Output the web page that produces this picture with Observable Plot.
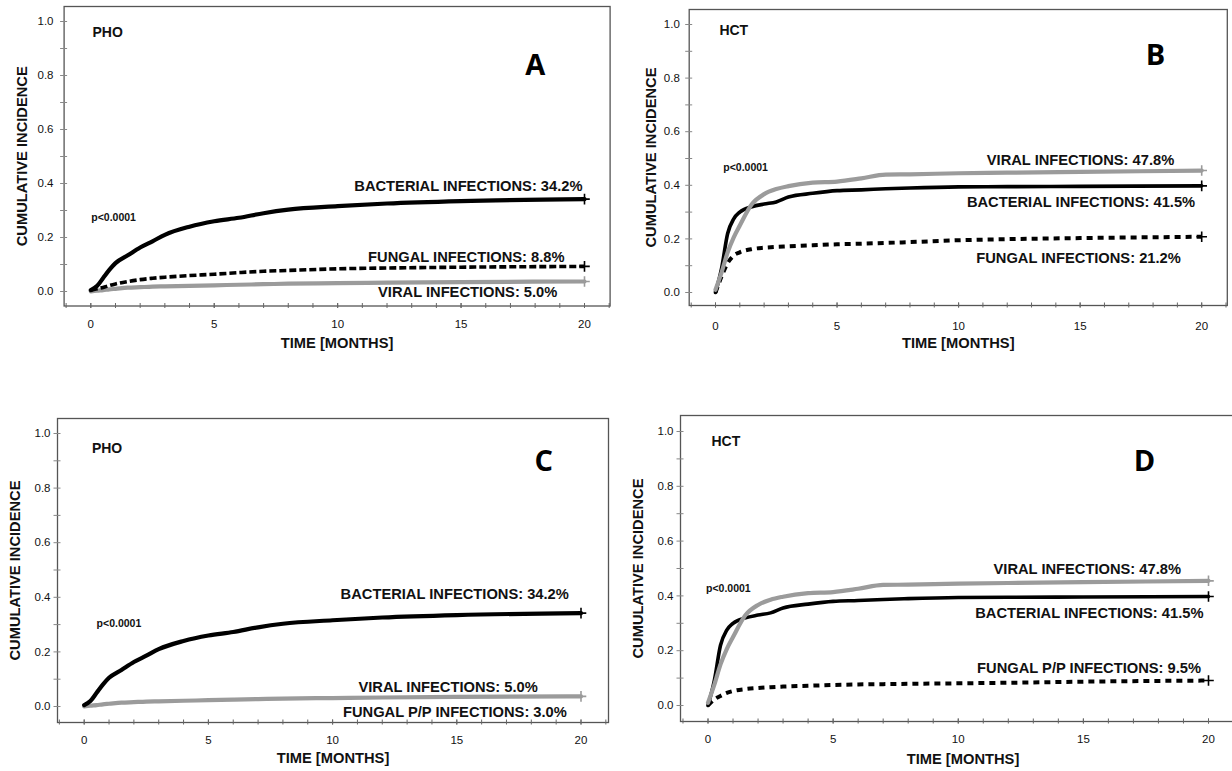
<!DOCTYPE html>
<html><head><meta charset="utf-8">
<script src="https://cdn.jsdelivr.net/npm/d3@7"></script>
<script src="https://cdn.jsdelivr.net/npm/@observablehq/plot@0.6"></script>
<style>
html,body{margin:0;padding:0;background:#fff;}
#wrap{position:relative;width:1232px;height:771px;overflow:hidden;background:#fff;}
#wrap > svg{position:absolute;}
</style></head><body><div id="wrap"></div>
<script>
// ---------- data ----------
const months = [0, 0.25, 0.5, 0.75, 1, 1.5, 2, 2.5, 3, 4, 5, 6, 7, 8, 10, 12, 15, 20];

// PHO (panels A and C)
const phoBacterial = [0.005, 0.02, 0.05, 0.08, 0.105, 0.134, 0.163, 0.186, 0.21, 0.24, 0.26, 0.273, 0.29, 0.303, 0.316, 0.326, 0.335, 0.342];
const phoFungal    = [0.005, 0.01, 0.015, 0.022, 0.028, 0.037, 0.044, 0.049, 0.053, 0.059, 0.064, 0.07, 0.075, 0.078, 0.084, 0.087, 0.09, 0.093];
const phoViral     = [0.0, 0.003, 0.005, 0.008, 0.01, 0.014, 0.016, 0.018, 0.019, 0.021, 0.023, 0.025, 0.027, 0.029, 0.031, 0.033, 0.035, 0.037];

// HCT (panels B and D)
const hctBacterial = [0.0, 0.09, 0.22, 0.275, 0.30, 0.32, 0.33, 0.338, 0.356, 0.37, 0.38, 0.383, 0.387, 0.39, 0.394, 0.395, 0.396, 0.398];
const hctViral     = [0.01, 0.075, 0.15, 0.206, 0.25, 0.33, 0.367, 0.386, 0.397, 0.41, 0.414, 0.426, 0.44, 0.441, 0.445, 0.447, 0.45, 0.455];
const hctFungal    = [0.0, 0.06, 0.11, 0.138, 0.15, 0.162, 0.167, 0.17, 0.172, 0.176, 0.18, 0.182, 0.185, 0.188, 0.195, 0.199, 0.203, 0.208];
const hctFungalPP  = [0.0, 0.022, 0.035, 0.046, 0.053, 0.06, 0.064, 0.067, 0.069, 0.072, 0.075, 0.077, 0.078, 0.079, 0.081, 0.083, 0.087, 0.091];

const yMajor = [0, 0.2, 0.4, 0.6, 0.8, 1.0];
const yMinor = [0.1, 0.3, 0.5, 0.7, 0.9];
const xMajor = [0, 5, 10, 15, 20];
const xMinor = d3.range(-1, 22);

const yTitle = "CUMULATIVE INCIDENCE";
const xTitle = "TIME [MONTHS]";
const pText = "p<0.0001";

// ---------- styles ----------
const FONT = "'Liberation Sans', Arial, Helvetica, sans-serif";
const BLACK = "#000";
const GRAY = "#9b9b9b";
const LABEL_SIZE = 14.7;

function series(values, style) {
  return {rows: months.map((t, i) => ({t, v: values[i]})), ...style};
}

const panels = [
  { // A
    box: {left: 0, top: 0, width: 616, height: 385},
    frame: [63.6, 6, 609.6, 305.5], x0px: 90.3, x20px: 584, y0px: 291, y1px: 21,
    yGap: 10.6, xLabGap: 15.5, yTitleOff: 42, xTitleOff: 41.5,
    lines: [
      series(phoViral, {stroke: GRAY, strokeWidth: 4.2}),
      series(phoFungal, {stroke: BLACK, strokeWidth: 3.6, dash: "7,3"}),
      series(phoBacterial, {stroke: BLACK, strokeWidth: 4.2})
    ],
    group: {text: "PHO", x: 0.07, y: 0.96},
    letter: {text: "A", x: 18.0, y: 0.835},
    p: {x: 0.02, y: 0.275},
    labels: [
      {text: "BACTERIAL INFECTIONS: 34.2%", x: 19.92, y: 0.389},
      {text: "FUNGAL INFECTIONS: 8.8%", x: 19.19, y: 0.127},
      {text: "VIRAL INFECTIONS: 5.0%", x: 18.9, y: -0.004}
    ]
  },
  { // B
    box: {left: 616, top: 0, width: 616, height: 385},
    frame: [688.7, 9, 1226.8, 305], x0px: 715, x20px: 1201.2, y0px: 292, y1px: 24,
    yGap: 9.4, xLabGap: 17.5, yTitleOff: 38, xTitleOff: 42,
    lines: [
      series(hctFungal, {stroke: BLACK, strokeWidth: 4, dash: "6,5"}),
      series(hctBacterial, {stroke: BLACK, strokeWidth: 3.6}),
      series(hctViral, {stroke: GRAY, strokeWidth: 4.2})
    ],
    group: {text: "HCT", x: 0.16, y: 0.978},
    letter: {text: "B", x: 18.1, y: 0.884},
    p: {x: 0.32, y: 0.466},
    labels: [
      {text: "VIRAL INFECTIONS: 47.8%", x: 18.87, y: 0.492},
      {text: "BACTERIAL INFECTIONS: 41.5%", x: 19.73, y: 0.335},
      {text: "FUNGAL INFECTIONS: 21.2%", x: 19.14, y: 0.127}
    ]
  },
  { // C
    box: {left: 0, top: 385, width: 616, height: 386},
    frame: [57, 418, 608, 722], x0px: 83.7, x20px: 580.5, y0px: 706, y1px: 433,
    yGap: 7, xLabGap: 14.7, yTitleOff: 42, xTitleOff: 40,
    lines: [
      series(phoViral, {stroke: GRAY, strokeWidth: 4.2}),
      series(phoBacterial, {stroke: BLACK, strokeWidth: 4.2})
    ],
    group: {text: "PHO", x: 0.31, y: 0.945},
    letter: {text: "C", x: 18.5, y: 0.895},
    p: {x: 0.5, y: 0.304},
    labels: [
      {text: "BACTERIAL INFECTIONS: 34.2%", x: 19.51, y: 0.41},
      {text: "VIRAL INFECTIONS: 5.0%", x: 18.26, y: 0.07},
      {text: "FUNGAL P/P INFECTIONS: 3.0%", x: 19.43, y: -0.022}
    ]
  },
  { // D
    box: {left: 616, top: 385, width: 640, height: 386},
    frame: [680, 415, 1245, 721], x0px: 707.5, x20px: 1208, y0px: 705, y1px: 431,
    yGap: 7, xLabGap: 15, yTitleOff: 42.4, xTitleOff: 42,
    lines: [
      series(hctFungalPP, {stroke: BLACK, strokeWidth: 4, dash: "6,5"}),
      series(hctBacterial, {stroke: BLACK, strokeWidth: 3.6}),
      series(hctViral, {stroke: GRAY, strokeWidth: 4.2})
    ],
    group: {text: "HCT", x: 0.14, y: 0.964},
    letter: {text: "D", x: 17.44, y: 0.89},
    p: {x: -0.08, y: 0.427},
    labels: [
      {text: "VIRAL INFECTIONS: 47.8%", x: 18.9, y: 0.496},
      {text: "BACTERIAL INFECTIONS: 41.5%", x: 19.8, y: 0.336},
      {text: "FUNGAL P/P INFECTIONS: 9.5%", x: 19.7, y: 0.135}
    ]
  }
];

function drawPanel(cfg) {
  const {box, frame: [fl, ft, fr, fb], x0px, x20px, y0px, y1px} = cfg;
  const ux = (x20px - x0px) / 20, uy = (y0px - y1px);
  const xDomain = [(fl - x0px) / ux, (fr - x0px) / ux];
  const yDomain = [(y0px - fb) / uy, (y0px - ft) / uy];
  const marks = [];

  // data lines
  for (const s of cfg.lines) {
    marks.push(Plot.line(s.rows, {x: "t", y: "v", curve: "monotone-x", stroke: s.stroke, strokeWidth: s.strokeWidth,
      strokeDasharray: s.dash, strokeLinejoin: "round", strokeLinecap: s.dash ? "butt" : "round"}));
    marks.push(Plot.dot(s.rows.slice(-1), {x: "t", y: "v", symbol: "plus", r: 3.5, stroke: s.stroke, strokeWidth: 1.6}));
  }

  // frame + axes
  marks.push(Plot.frame({stroke: "#555", strokeWidth: 1.3}));
  marks.push(Plot.axisY(yMajor, {tickFormat: d3.format(".1f"), tickSize: 7, dx: 3.5, tickPadding: cfg.yGap - 3.5,
    stroke: "#888", fill: "#111", fontSize: 11.5, fontFamily: FONT, label: null}));
  marks.push(Plot.axisY(yMinor, {tickFormat: () => "", tickSize: 7, dx: 3.5, stroke: "#888", label: null}));
  marks.push(Plot.axisX(xMinor, {tickFormat: () => "", tickSize: 5, dy: -2.5, stroke: "#666", label: null}));
  marks.push(Plot.axisX(xMajor, {tickFormat: d3.format("d"), tickSize: 5, dy: -2.5, tickPadding: cfg.xLabGap - 4.1,
    stroke: "#666", fill: "#111", fontSize: 11.5, fontFamily: FONT, label: null}));

  // axis titles
  marks.push(Plot.text([yTitle], {frameAnchor: "left", textAnchor: "middle", rotate: -90, dx: -cfg.yTitleOff, text: d => d,
    fontSize: LABEL_SIZE, fontWeight: "bold", fontFamily: FONT, fill: "#111"}));
  marks.push(Plot.text([xTitle], {frameAnchor: "bottom", textAnchor: "middle", dy: cfg.xTitleOff, text: d => d,
    fontSize: LABEL_SIZE, fontWeight: "bold", fontFamily: FONT, fill: "#111"}));

  // annotations
  marks.push(Plot.text([cfg.group], {x: "x", y: "y", text: "text", textAnchor: "start",
    fontSize: 14, fontWeight: "bold", fontFamily: FONT, fill: "#111"}));
  marks.push(Plot.text([cfg.p], {x: "x", y: "y", text: () => pText, textAnchor: "start",
    fontSize: 10.5, fontWeight: "bold", fontFamily: FONT, fill: "#111"}));
  marks.push(Plot.text([cfg.letter], {x: "x", y: "y", text: "text", textAnchor: "middle",
    fontSize: 29, fontWeight: "bold", fontFamily: "'Open Sans', 'Noto Sans', sans-serif", fill: "#000"}));
  marks.push(Plot.text(cfg.labels, {x: "x", y: "y", text: "text", textAnchor: "end",
    fontSize: LABEL_SIZE, fontWeight: "bold", fontFamily: FONT, fill: "#111"}));

  const svg = Plot.plot({
    width: box.width, height: box.height,
    marginLeft: fl - box.left, marginRight: box.left + box.width - fr,
    marginTop: ft - box.top, marginBottom: box.top + box.height - fb,
    x: {domain: xDomain, axis: null},
    y: {domain: yDomain, axis: null},
    style: {fontFamily: FONT, background: "transparent", overflow: "visible"},
    marks
  });
  svg.style.left = box.left + "px";
  svg.style.top = box.top + "px";
  document.getElementById("wrap").appendChild(svg);
}

panels.forEach(drawPanel);
</script>
</body></html>
